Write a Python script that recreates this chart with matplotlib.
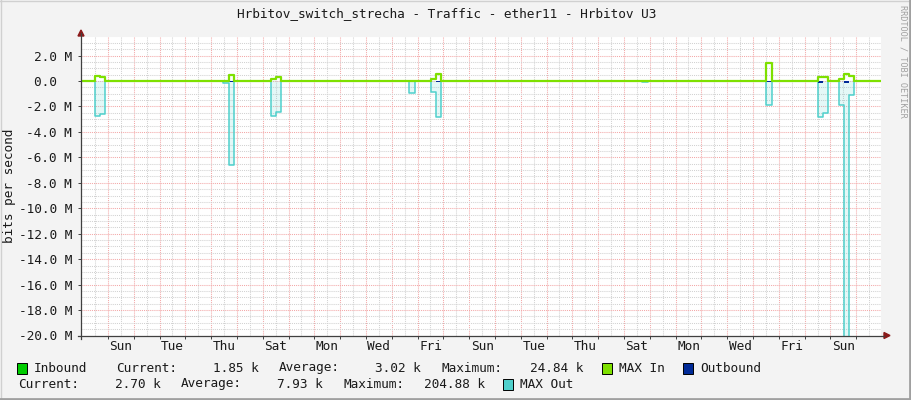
import numpy as np
import matplotlib
matplotlib.use("Agg")
import matplotlib.pyplot as plt
from matplotlib.lines import Line2D
from matplotlib.patches import Rectangle, Polygon

plt.rcParams["font.family"] = ["DejaVu Sans Mono"]

W, H = 911, 400

# traffic bursts: hours since first midnight, values in M bits/s
seg_start = [-12.4, -7.4, 107.0, 112.8, 151.3, 156.3, 280.3, 300.2, 304.9,
             497.0, 612.4, 660.2, 665.4, 679.7, 684.6, 689.6]
seg_end = [-7.4, -2.8, 112.8, 116.9, 156.3, 160.7, 285.6, 304.9, 309.8,
           502.0, 618.0, 665.4, 670.0, 684.6, 689.6, 694.4]
max_in = [0.36, 0.28, 0.03, 0.47, 0.13, 0.29, 0.0, 0.13, 0.53,
          0.0, 1.40, 0.29, 0.29, 0.16, 0.53, 0.40]
inbound = [0.02, 0.02, 0.0, 0.02, 0.01, 0.02, 0.0, 0.01, 0.02,
           0.0, 0.02, 0.02, 0.02, 0.01, 0.02, 0.02]
max_out = [-2.76, -2.60, -0.18, -6.60, -2.76, -2.40, -0.97, -0.90, -2.86,
           -0.10, -1.90, -2.86, -2.54, -1.90, -24.0, -1.10]
outbound = [-0.03, -0.03, 0.0, -0.04, -0.02, -0.02, -0.06, 0.0, -0.05,
            0.0, -0.05, -0.13, -0.03, 0.0, -0.13, -0.03]

day_labels = ["Sun", "Tue", "Thu", "Sat", "Mon", "Wed", "Fri", "Sun",
              "Tue", "Thu", "Sat", "Mon", "Wed", "Fri", "Sun"]
y_ticks = [2, 0, -2, -4, -6, -8, -10, -12, -14, -16, -18, -20]

x_min, x_max = -25.1, 718.6
y_min, y_max = -20.0, 3.5

C_IN = "#00CC00"
C_MAXIN = "#7EE000"
C_OUT = "#002A97"
C_MAXOUT = "#4FD0CC"
TXT = "#1a1a1a"


def step_series(values):
    t = sorted(set([x_min, x_max] + seg_start + seg_end))
    v = np.zeros(len(t))
    for s, e, val in zip(seg_start, seg_end, values):
        for i in range(len(t) - 1):
            if t[i] >= s - 1e-9 and t[i + 1] <= e + 1e-9:
                v[i] = val
    v[-1] = v[-2]
    return np.array(t), v


fig = plt.figure(figsize=(W / 100, H / 100), dpi=100)
fig.patch.set_facecolor("#F3F3F3")

left, right, top, bottom = 81, 880.5, 36.5, 335.5
ax = fig.add_axes([left / W, 1 - bottom / H, (right - left) / W, (bottom - top) / H])
ax.set_facecolor("white")
ax.set_xlim(x_min, x_max)
ax.set_ylim(y_min, y_max)

# grid: minor grey every 12h / 0.5M, major red every day / 2M
dots = (0, (1, 1))
for h in np.arange(-12, x_max, 24):
    ax.axvline(h, color="#D2D2D2", lw=0.75, ls=dots, zorder=1)
for h in np.arange(0, x_max, 24):
    ax.axvline(h, color="#F3A8A8", lw=0.75, ls=dots, zorder=1)
for v in np.arange(-20, 3.6, 0.5):
    if abs(v % 2) > 1e-6:
        ax.axhline(v, color="#D2D2D2", lw=0.75, ls=dots, zorder=1)
for v in np.arange(-20, 3, 2):
    ax.axhline(v, color="#F3A8A8", lw=0.75, ls=dots, zorder=1)

t, mo = step_series(max_out)
ax.fill_between(t, 0, mo, step="post", color=C_MAXOUT, alpha=0.15, lw=0, zorder=2)
ax.step(t, mo, where="post", color=C_MAXOUT, lw=1.1, zorder=3)
t, ob = step_series(outbound)
ax.fill_between(t, 0, ob, step="post", color=C_OUT, lw=0, zorder=4)
t, ib = step_series(inbound)
ax.fill_between(t, 0, ib, step="post", color=C_IN, lw=0, zorder=4)
t, mi = step_series(max_in)
ax.step(t, mi, where="post", color=C_MAXIN, lw=1.6, zorder=5)

for s in ax.spines.values():
    s.set_visible(False)
ax.set_xticks(np.arange(0, x_max, 24))
ax.set_xticklabels([])
ax.tick_params(axis="x", length=2, direction="out", color="#404040", width=0.7)
ax.set_yticks(y_ticks)
ax.set_yticklabels([f"{v:.1f} M" if v != 0 else "0.0  " for v in y_ticks],
                   fontsize=9.2, color=TXT)
ax.tick_params(axis="y", length=2, direction="out", color="#404040", width=0.7, pad=4.5)

for i, lab in enumerate(day_labels):
    ax.text(12 + 48 * i, -0.036, lab, transform=ax.get_xaxis_transform(),
            ha="center", va="center", fontsize=9.2, color=TXT)


def px(x, y):
    return x / W, 1 - y / H


# axis lines with arrow heads
fig.add_artist(Line2D(*zip(px(78, bottom), px(884, bottom)), color="#404040", lw=0.9))
fig.add_artist(Line2D(*zip(px(left, 339), px(left, 33)), color="#404040", lw=0.9))
fig.add_artist(Polygon([px(884, bottom - 3), px(890, bottom), px(884, bottom + 3)],
                       closed=True, color="#8B1A1A", transform=fig.transFigure))
fig.add_artist(Polygon([px(left - 3, 36), px(left, 30), px(left + 3, 36)],
                       closed=True, color="#8B1A1A", transform=fig.transFigure))

fig.text(*px(447, 14), "Hrbitov_switch_strecha - Traffic - ether11 - Hrbitov U3",
         ha="center", va="center", fontsize=9.2, color=TXT)
fig.text(*px(10, 186), "bits per second", rotation=90, ha="center", va="center",
         fontsize=9.2, color=TXT)
fig.text(*px(903, 5), "RRDTOOL / TOBI OETIKER", rotation=270, ha="center", va="top",
         fontsize=6.1, color="#A0A0A0")

# legend
def box(x, y, color):
    fig.add_artist(Rectangle(px(x, y + 5.5), 10 / W, 11 / H, facecolor=color,
                             edgecolor="black", lw=0.7, transform=fig.transFigure))


def txt(x, y, s, ha="left"):
    fig.text(*px(x, y), s, ha=ha, va="center", fontsize=9.2, color=TXT)


r1, r2 = 368, 384
box(17, r1, C_IN)
txt(34, r1, "Inbound")
txt(116, r1, "Current:")
txt(259, r1, "1.85 k", "right")
txt(279, r1, "Average:")
txt(421, r1, "3.02 k", "right")
txt(441, r1, "Maximum:")
txt(583, r1, "24.84 k", "right")
box(602, r1, C_MAXIN)
txt(619, r1, "MAX In")
box(683, r1, C_OUT)
txt(700, r1, "Outbound")

txt(18, r2, "Current:")
txt(161, r2, "2.70 k", "right")
txt(181, r2, "Average:")
txt(323, r2, "7.93 k", "right")
txt(343, r2, "Maximum:")
txt(485, r2, "204.88 k", "right")
box(503, r2, C_MAXOUT)
txt(520, r2, "MAX Out")

# frame shading
fig.add_artist(Line2D(*zip(px(0, 0.5), px(W, 0.5)), color="#D0D0D0", lw=1))
fig.add_artist(Line2D(*zip(px(0.5, 0), px(0.5, H)), color="#D0D0D0", lw=1))
fig.add_artist(Line2D(*zip(px(0, H - 1.5), px(W, H - 1.5)), color="#A0A0A0", lw=2))
fig.add_artist(Line2D(*zip(px(W - 1.5, 0), px(W - 1.5, H)), color="#A0A0A0", lw=2))

fig.savefig("out.png", dpi=100, facecolor=fig.get_facecolor())
